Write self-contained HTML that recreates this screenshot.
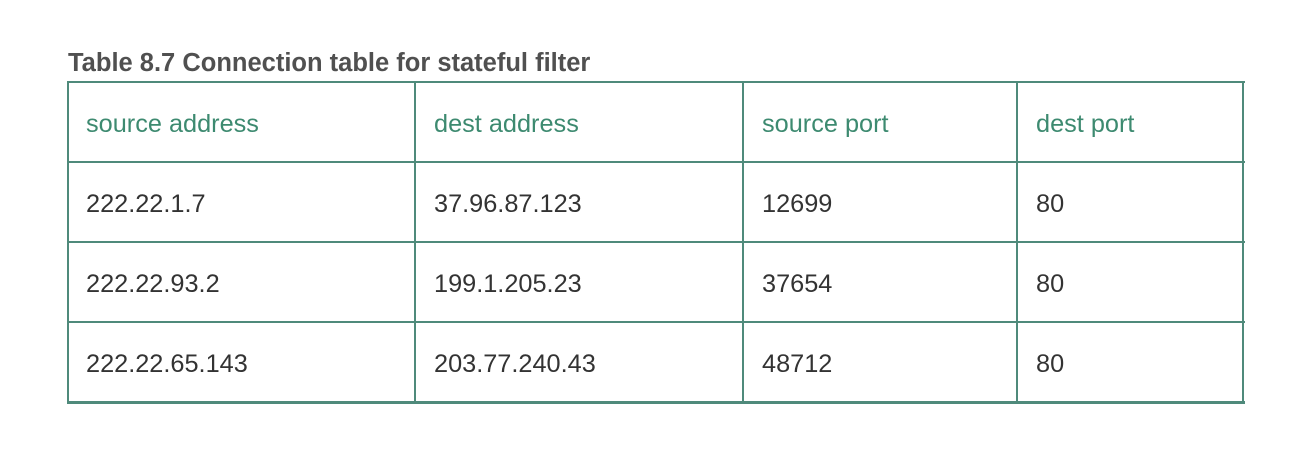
<!DOCTYPE html>
<html><head><meta charset="utf-8"><style>
body{margin:0;width:1306px;height:452px;background:#fff;position:relative;overflow:hidden;font-family:"Liberation Sans",Arial,sans-serif}
.t{position:absolute;left:68px;top:48px;font-size:25.5px;line-height:30px;font-weight:bold;color:#505050;white-space:nowrap}
.h{position:absolute;background:#4f8a7b}
.c{position:absolute;font-size:25.3px;color:#333;white-space:nowrap;line-height:30px}
.hd{color:#3d8a70}
</style></head><body>
<div class="t">Table 8.7 Connection table for stateful filter</div>
<div>
<div class="h" style="left:67px;top:81px;width:1178px;height:2px"></div>
<div class="h" style="left:67px;top:161px;width:1178px;height:2px"></div>
<div class="h" style="left:67px;top:241px;width:1178px;height:2px"></div>
<div class="h" style="left:67px;top:321px;width:1178px;height:2px"></div>
<div class="h" style="left:67px;top:401px;width:1178px;height:3px"></div>
<div class="h" style="left:67px;top:81px;width:2px;height:322px"></div>
<div class="h" style="left:414px;top:81px;width:2px;height:322px"></div>
<div class="h" style="left:742px;top:81px;width:2px;height:322px"></div>
<div class="h" style="left:1016px;top:81px;width:2px;height:322px"></div>
<div class="h" style="left:1242px;top:81px;width:2px;height:322px"></div>

<div class="c hd" style="left:86px;top:109px">source address</div>
<div class="c hd" style="left:434px;top:109px">dest address</div>
<div class="c hd" style="left:762px;top:109px">source port</div>
<div class="c hd" style="left:1036px;top:109px">dest port</div>

<div class="c" style="left:86px;top:189px">222.22.1.7</div>
<div class="c" style="left:434px;top:189px">37.96.87.123</div>
<div class="c" style="left:762px;top:189px">12699</div>
<div class="c" style="left:1036px;top:189px">80</div>

<div class="c" style="left:86px;top:269px">222.22.93.2</div>
<div class="c" style="left:434px;top:269px">199.1.205.23</div>
<div class="c" style="left:762px;top:269px">37654</div>
<div class="c" style="left:1036px;top:269px">80</div>

<div class="c" style="left:86px;top:349px">222.22.65.143</div>
<div class="c" style="left:434px;top:349px">203.77.240.43</div>
<div class="c" style="left:762px;top:349px">48712</div>
<div class="c" style="left:1036px;top:349px">80</div>
</div>
</body></html>
